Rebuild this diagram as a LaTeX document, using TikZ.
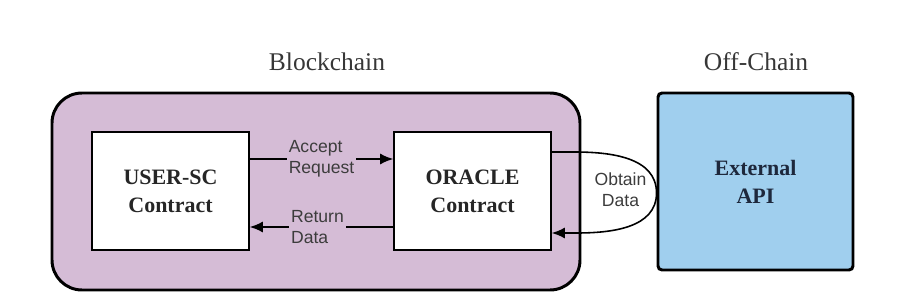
\documentclass[tikz,border=0pt]{standalone}
\usepackage{fontspec}
\setmainfont{Liberation Serif}
\setsansfont{Liberation Sans}
\usetikzlibrary{arrows.meta}
\definecolor{chainpurple}{RGB}{213,188,214}
\definecolor{apiblue}{RGB}{160,207,238}
\definecolor{titlegray}{RGB}{55,55,55}
\definecolor{labelgray}{RGB}{60,60,60}

\begin{document}
\begin{tikzpicture}[
  contract/.style={draw=black, line width=0.9pt, fill=white, minimum width=3.14cm, minimum height=2.36cm, align=center, font=\fontsize{12.5}{16}\selectfont\bfseries, text=black!85},
  flowlabel/.style={font=\sffamily\fontsize{10}{12}\selectfont, text=labelgray, inner sep=0pt},
  flow/.style={line width=0.9pt, -{Latex[length=2.6mm,width=2.2mm]}},
  title/.style={font=\fontsize{14.5}{16}\selectfont, text=titlegray}
]
\useasboundingbox (0,0) rectangle (17.94,6.08);
% Regions
\node[draw=black, line width=1.7pt, rounded corners=0.6cm, fill=chainpurple, minimum width=10.56cm, minimum height=3.94cm] (chain) at (6.32,2.25) {};
\node[draw=black, line width=1.7pt, rounded corners=0.08cm, fill=apiblue, minimum width=3.9cm, minimum height=3.54cm, align=center, font=\fontsize{12.5}{16}\selectfont\bfseries, text={rgb,255:red,30;green,40;blue,60}] (api) at (15.11,2.45) {External\\API};
\node[title] (chaintitle) at (6.54,4.84) {Blockchain};
\node[title] (offtitle) at (15.12,4.84) {Off-Chain};
% Contracts
\node[contract] (user) at (3.41,2.26) {USER-SC\\Contract};
\node[contract] (oracle) at (9.45,2.26) {ORACLE\\Contract};
% Request / return
\draw[flow] ([yshift=0.64cm]user.east) -- node[flowlabel, fill=chainpurple, align=left, inner xsep=1pt] (acceptlbl) {Accept\\Request} ([yshift=0.64cm]oracle.west);
\draw[flow] ([yshift=-0.72cm]oracle.west) -- node[flowlabel, fill=chainpurple, align=left, inner xsep=1pt, xshift=-0.08cm] (returnlbl) {Return\\Data} ([yshift=-0.72cm]user.east);
% Obtain data loop
\coordinate (apex) at (api.west |- 0,2.22);
\draw[flow] ([yshift=0.78cm]oracle.east) -- ++(0.45,0) to[out=0, in=90] (apex) to[out=-90, in=0] ++(-1.6,-0.8) -- ([yshift=-0.84cm]oracle.east);
\node[flowlabel, align=center] (obtainlbl) at (12.41,2.28) {Obtain\\Data};
\end{tikzpicture}
\end{document}
